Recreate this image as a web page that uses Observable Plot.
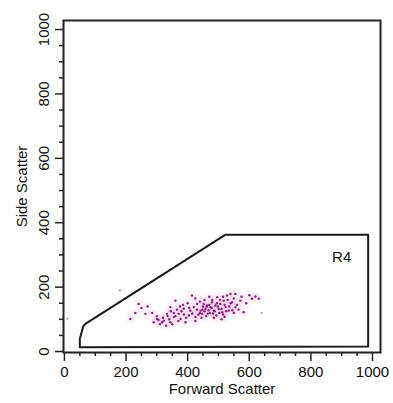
<!DOCTYPE html>
<html>
<head>
<meta charset="utf-8">
<script src="https://cdn.jsdelivr.net/npm/d3@7"></script>
<script src="https://cdn.jsdelivr.net/npm/@observablehq/plot@0.6"></script>
<style>
  html, body { margin: 0; padding: 0; background: #fff; }
  #chart svg { display: block; }
</style>
</head>
<body>
<div id="chart"></div>
<script>
// Tick values
const majorTicks = [0, 200, 400, 600, 800, 1000];
const minorTicks = [50, 100, 150, 250, 300, 350, 450, 500, 550, 650, 700, 750, 850, 900, 950];

// Gate R4 polygon vertices (data units)
const gateX = [50, 50, 61, 68, 523, 986, 986];
const gateY = [13, 40, 78, 86, 363, 363, 16];
const gateLabel = ["R4"];
const gateLabelX = [900];
const gateLabelY = [294];

// Events (Forward Scatter, Side Scatter)
const cellX = [214, 241, 263, 290, 301, 317, 322, 333, 344, 344, 355, 360, 371, 377, 387, 393, 404, 409, 414, 420,
  425, 431, 442, 447, 452, 458, 463, 465, 474, 479, 485, 490, 496, 501, 506, 512, 517, 523, 528, 533,
  539, 544, 555, 555, 571, 582, 609, 620, 631,
  440, 448, 455, 460, 468, 472, 478, 482, 488, 493, 498, 503, 510, 515, 520, 525, 470, 462, 450, 445,
  435, 430, 425, 415, 405, 395, 388, 380, 370, 360, 350, 340, 330, 310, 300, 485, 495, 505, 515, 530,
  540, 550, 560, 575, 590, 600, 535, 545, 550, 565, 510, 520, 480, 470, 455, 440, 425, 400, 385, 375,
  365, 355, 345, 335, 320, 305, 285, 270, 250, 230];
const cellY = [101, 148, 117, 91, 101, 91, 96, 117, 138, 91, 107, 158, 117, 101, 133, 91, 112, 127, 174, 138,
  107, 148, 127, 117, 148, 133, 143, 117, 138, 153, 127, 143, 169, 133, 148, 122, 158, 138, 174, 127,
  179, 153, 179, 138, 158, 122, 164, 171, 164,
  120, 130, 125, 110, 128, 120, 135, 118, 125, 112, 140, 120, 132, 115, 145, 125, 145, 140, 140, 105,
  115, 130, 95, 118, 135, 105, 115, 125, 95, 110, 85, 100, 80, 85, 110, 105, 150, 160, 170, 160,
  150, 165, 145, 170, 150, 175, 140, 128, 120, 130, 100, 108, 160, 170, 160, 155, 165, 150, 145, 140,
  130, 120, 125, 110, 105, 98, 120, 140, 135, 120];
// Faint stray events
const strayX = [10, 180, 640];
const strayY = [102, 190, 120];

const cells = cellX.map((x, i) => ({x, y: cellY[i]}));
const strays = strayX.map((x, i) => ({x, y: strayY[i]}));
const gate = gateX.map((x, i) => ({x, y: gateY[i]}));

const font = "'Liberation Sans', Arial, sans-serif";
const fmt = d => String(d);

const chart = Plot.plot({
  width: 393,
  height: 403,
  marginLeft: 63,
  marginRight: 13,
  marginTop: 20,
  marginBottom: 51,
  style: {fontFamily: font, fontSize: "15px", color: "#111", background: "#fff"},
  x: {domain: [-3, 1026]},
  y: {domain: [-3, 1028]},
  marks: [
    Plot.dot(cells, {x: "x", y: "y", r: 5, fill: "#f3b6e6", fillOpacity: 0.12, stroke: "none"}),
    Plot.dot(strays, {x: "x", y: "y", r: 1, fill: "#999", stroke: "none"}),
    Plot.dot(cells, {x: "x", y: "y", r: 1.2, fill: "#8a1d7c", stroke: "none"}),
    Plot.line(gate, {x: "x", y: "y", curve: "linear-closed", stroke: "#1a1a1a", strokeWidth: 2}),
    Plot.text(gateLabel, {x: gateLabelX, y: gateLabelY, text: d => d, fontSize: 15, fill: "#111"}),
    Plot.frame({stroke: "#222", strokeWidth: 2}),
    Plot.axisX(minorTicks, {tickSize: 4, text: null, label: null, stroke: "#222", strokeWidth: 1.5}),
    Plot.axisX(majorTicks, {tickSize: 9, tickPadding: 5, tickFormat: fmt, stroke: "#222", strokeWidth: 1.5, fontSize: 15, fill: "#111",
      label: "Forward Scatter", labelAnchor: "center", labelArrow: "none", labelOffset: 41}),
    Plot.axisY(minorTicks, {tickSize: 4, text: null, label: null, stroke: "#222", strokeWidth: 1.5}),
    Plot.axisY(majorTicks, {tickSize: 8, tickPadding: 7, tickFormat: fmt, tickRotate: -90, stroke: "#222", strokeWidth: 1.5, fontSize: 15, fill: "#111",
      label: "Side Scatter", labelAnchor: "center", labelArrow: "none", labelOffset: 47})
  ]
});
document.getElementById("chart").appendChild(chart);
</script>
</body>
</html>
